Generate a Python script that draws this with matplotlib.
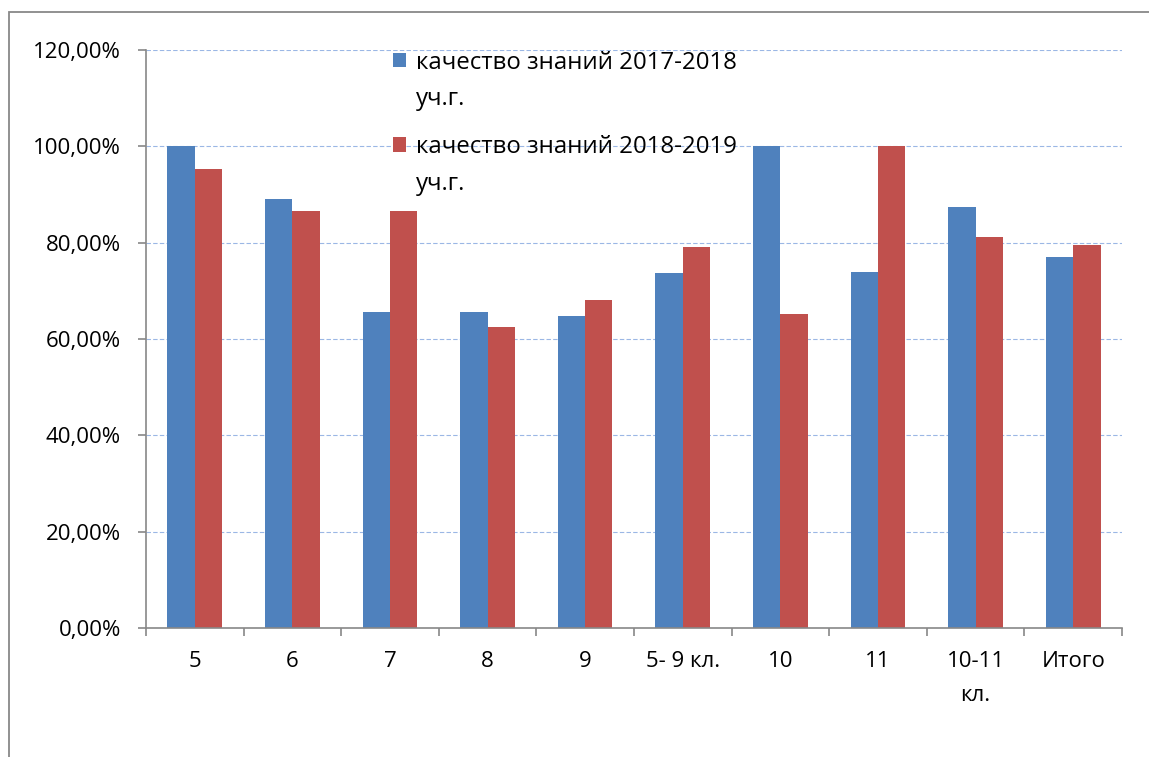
import matplotlib.pyplot as plt
import numpy as np
from matplotlib.ticker import FuncFormatter, MultipleLocator, FixedLocator
from matplotlib.patches import Rectangle
from matplotlib.container import BarContainer
from matplotlib.legend_handler import HandlerPatch, update_from_first_child

plt.rcParams['font.family'] = ['Open Sans', 'DejaVu Sans']

# --- данные ---
classes = ["5", "6", "7", "8", "9", "5- 9 кл.", "10", "11", "10-11\nкл.", "Итого"]
q_2017 = [100.0, 89.0, 65.6, 65.7, 64.8, 73.8, 100.0, 74.0, 87.5, 77.0]
q_2018 = [95.3, 86.5, 86.5, 62.4, 68.0, 79.0, 65.2, 100.0, 81.2, 79.6]
labels = ["качество знаний 2017-2018\nуч.г.", "качество знаний 2018-2019\nуч.г."]

BLUE = "#4F81BD"
RED = "#C0504D"
GREY = "#888888"
W = 0.28
FS = 16
LEG_FS = 17.3


def square_top(legend, orig_handle, xdescent, ydescent, width, height, fontsize):
    # маркер легенды на уровне первой строки подписи
    return Rectangle((-xdescent, -ydescent + 0.9 * fontsize), width, height)


fig = plt.figure(figsize=(11.49, 7.57), dpi=100)
ax = fig.add_axes([0.127, 0.1704, 0.8495, 0.7636])

# рамка вокруг диаграммы (видны левая и верхняя стороны)
fig.patches.append(Rectangle((9 / 1149, -0.05), 1.05, 1.05 - 12 / 757, transform=fig.transFigure,
                             fill=False, edgecolor=GREY, lw=1.3))

x = np.arange(len(classes))
ax.bar(x - W / 2, q_2017, W, color=BLUE, label=labels[0])
ax.bar(x + W / 2, q_2018, W, color=RED, label=labels[1])

ax.set_xlim(-0.5, len(classes) - 0.5)
ax.set_ylim(0, 120)
ax.yaxis.set_major_locator(MultipleLocator(20))
ax.yaxis.set_major_formatter(FuncFormatter(lambda v, p: f"{v:.2f}".replace(".", ",") + "%"))
ax.grid(axis="y", color="#9BB7E5", linestyle=(0, (4, 2)), lw=0.8)
ax.set_axisbelow(True)

# подписи категорий по центру, деления на границах
ax.set_xticks(x)
ax.set_xticklabels(classes, linespacing=1.8, va="top")
ax.tick_params(axis="x", which="major", length=0, pad=16.5, labelsize=FS)
ax.xaxis.set_minor_locator(FixedLocator(np.arange(-0.5, len(classes), 1.0)))
ax.tick_params(axis="x", which="minor", length=6, color=GREY, width=1.2)
ax.tick_params(axis="y", length=6, color=GREY, width=1.2, labelsize=FS, pad=12)

for s in ["top", "right"]:
    ax.spines[s].set_visible(False)
for s in ["left", "bottom"]:
    ax.spines[s].set_color(GREY)
    ax.spines[s].set_linewidth(1.2)

leg = ax.legend(loc="upper left", bbox_to_anchor=(0.231, 1.036), frameon=False,
                fontsize=LEG_FS, handlelength=0.55, handleheight=0.55, handletextpad=0.4,
                labelspacing=1.0,
                handler_map={BarContainer: HandlerPatch(patch_func=square_top,
                                                        update_func=update_from_first_child)})
for t in leg.get_texts():
    t.set_linespacing(1.7)

plt.savefig("out.png", dpi=100)
